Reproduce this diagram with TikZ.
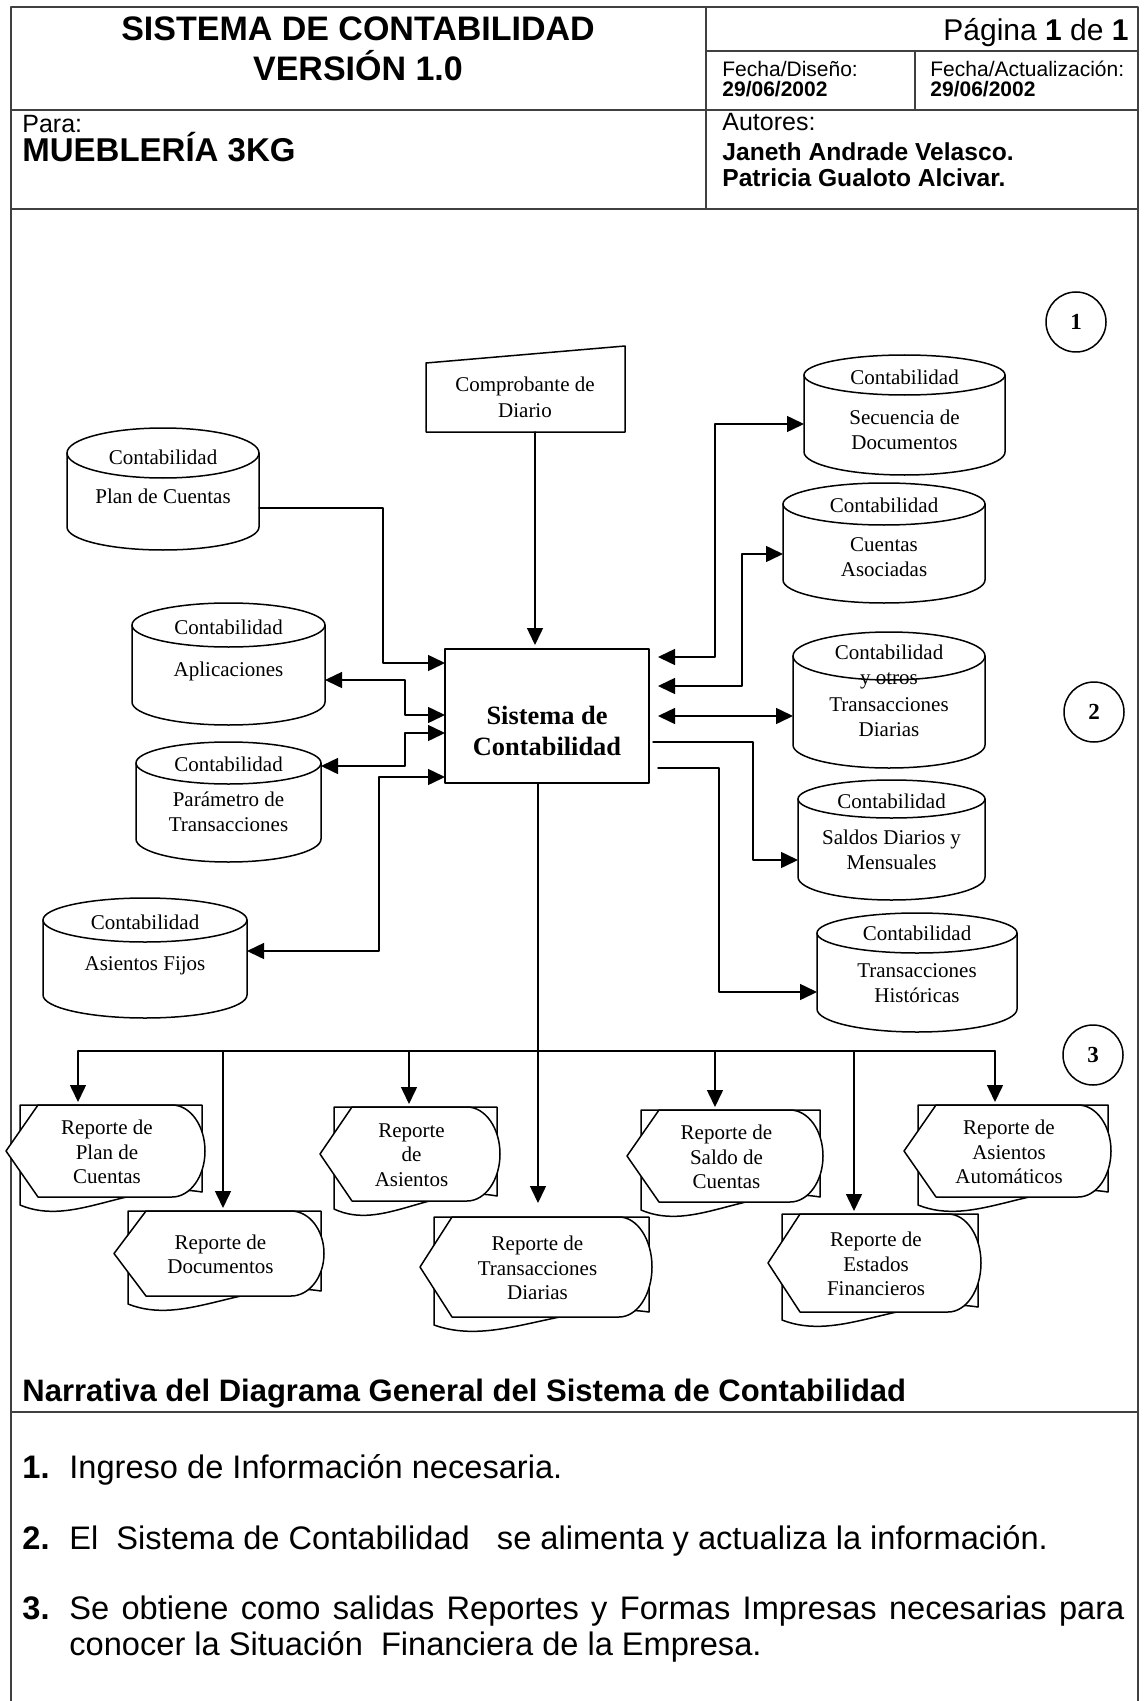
\documentclass[tikz,border=0pt]{standalone}
\usepackage{fontspec}
\setmainfont{Liberation Serif}
\newfontfamily\hsans{Liberation Sans}
\usetikzlibrary{arrows.meta,calc}

\begin{document}
\begin{tikzpicture}[x=0.5pt,y=-0.5pt,line cap=round,line join=round,
  >={Triangle[length=8.5pt,width=8pt]},
  rule/.style={line width=0.8pt,draw=black!75},
  conn/.style={line width=0.75pt},
  lbl/.style={font=\fontsize{10.5}{12.3}\selectfont,align=center,inner sep=0pt},
  shp/.style={line width=0.75pt,fill=white},
  rep/.style={rectangle,inner sep=0pt,outer sep=0pt},
  num/.style={circle,draw,line width=0.75pt,minimum size=30pt,inner sep=0pt,font=\fontsize{11.5}{12}\selectfont\bfseries},
  hd/.style={inner sep=0pt}]
\useasboundingbox (0,0) rectangle (1144,1701);

\draw[rule] (11,1701) -- (11,7) -- (1138,7) -- (1138,1701);
\draw[rule] (706,7) -- (706,209);
\draw[rule] (706,51) -- (1138,51);
\draw[rule] (915,51) -- (915,110);
\draw[rule] (11,110) -- (1138,110);
\draw[rule] (11,209) -- (1138,209);
\draw[rule] (11,1412) -- (1138,1412);

\node[hd,anchor=base,font=\hsans\bfseries\fontsize{17}{20}\selectfont] (tit1) at (358,41) {SISTEMA DE CONTABILIDAD};
\node[hd,anchor=base,font=\hsans\bfseries\fontsize{17}{20}\selectfont] (tit2) at (358,81) {VERSIÓN 1.0};
\node[hd,anchor=base east,font=\hsans\fontsize{15}{18}\selectfont] (pag) at (1129,41) {Página \textbf{1} de \textbf{1}};
\node[hd,anchor=base west,font=\hsans\fontsize{10.5}{12}\selectfont] (fd1) at (722,77) {Fecha/Diseño:};
\node[hd,anchor=base west,font=\hsans\bfseries\fontsize{10.5}{12}\selectfont] (fd2) at (722,97) {29/06/2002};
\node[hd,anchor=base west,font=\hsans\fontsize{10.5}{12}\selectfont] (fa1) at (930,77) {Fecha/Actualización:};
\node[hd,anchor=base west,font=\hsans\bfseries\fontsize{10.5}{12}\selectfont] (fa2) at (930,97) {29/06/2002};
\node[hd,anchor=base west,font=\hsans\fontsize{12.5}{15}\selectfont] (para) at (22,133) {Para:};
\node[hd,anchor=base west,font=\hsans\bfseries\fontsize{16.5}{18}\selectfont] (cli) at (22,162) {MUEBLERÍA 3KG};
\node[hd,anchor=base west,font=\hsans\fontsize{12.5}{15}\selectfont] (aut) at (722,131) {Autores:};
\node[hd,anchor=base west,font=\hsans\bfseries\fontsize{12.3}{15}\selectfont] (aut1) at (722,161) {Janeth Andrade Velasco.};
\node[hd,anchor=base west,font=\hsans\bfseries\fontsize{12.3}{15}\selectfont] (aut2) at (722,187) {Patricia Gualoto Alcivar.};

\node[num] (n1) at (1076,322) {1};
\node[num] (n2) at (1094,712) {2};
\node[num] (n3) at (1093,1055) {3};

\node[rep,minimum width=99.5pt,minimum height=37pt] (comp) at (525.5,395) {};
\draw[shp] (comp.south west) -- (comp.south east) -- ($(comp.south east)+(0,-86)$) -- ($(comp.south west)+(0,-69)$) -- cycle;
\node[lbl,font=\fontsize{10.5}{13}\selectfont] (compT) at (525,397) {Comprobante de\\Diario};

\node[draw,line width=0.75pt,rectangle,minimum width=102pt,minimum height=67pt,inner sep=0pt,outer sep=0pt] (sis) at (547,716) {};
\node[lbl,font=\fontsize{13.2}{15.5}\selectfont\bfseries] (sisT) at (547,731) {Sistema de\\Contabilidad};

\foreach \nm/\xa/\xb/\yt/\yb/\ry in {dbPlan/67/259/428/550/25, dbApl/132/325/603/725/22, dbPar/136/321/742/862/21,
  dbFij/43/247/898/1018/22, dbSec/804/1005/355/475/20, dbCta/783/985/483/603/21, dbTrd/793/985/632/768/24,
  dbSal/798/985/780/900/19, dbHis/817/1017/913/1032/20}{
  \node[rep,minimum width={(\xb-\xa)*0.5pt},minimum height={(\yb-\yt)*0.5pt}] (\nm) at ({(\xa+\xb)/2},{(\yt+\yb)/2}) {};
  \draw[shp] ($(\nm.north west)+(0,\ry)$) -- ($(\nm.south west)+(0,-23)$) arc[start angle=180,end angle=360,x radius={(\xb-\xa)*0.25pt},y radius=11.5pt] -- ($(\nm.north east)+(0,\ry)$) arc[start angle=0,end angle=180,x radius={(\xb-\xa)*0.25pt},y radius=\ry*0.5pt] -- cycle;
  \draw[shp,fill=none] ($(\nm.north west)+(0,\ry)$) arc[start angle=180,end angle=360,x radius={(\xb-\xa)*0.25pt},y radius=\ry*0.5pt];
}

\node[lbl] (dbPlanA) at (163,457) {Contabilidad};
\node[lbl] (dbPlanB) at (163,496) {Plan de Cuentas};
\node[lbl] (dbAplA) at (228.5,627) {Contabilidad};
\node[lbl] (dbAplB) at (228.5,671) {Aplicaciones};
\node[lbl] (dbParA) at (228.5,764) {Contabilidad};
\node[lbl] (dbParB) at (228.5,812) {Parámetro de\\Transacciones};
\node[lbl] (dbFijA) at (145,922) {Contabilidad};
\node[lbl] (dbFijB) at (145,966) {Asientos Fijos};
\node[lbl] (dbSecA) at (904.5,377) {Contabilidad};
\node[lbl] (dbSecB) at (904.5,430) {Secuencia de\\Documentos};
\node[lbl] (dbCtaA) at (884,505) {Contabilidad};
\node[lbl] (dbCtaB) at (884,557) {Cuentas\\Asociadas};
\node[lbl] (dbTrdA) at (889,667) {Contabilidad\\y otros};
\node[lbl] (dbTrdB) at (889,717) {Transacciones\\Diarias};
\node[lbl] (dbSalA) at (891.5,801) {Contabilidad};
\node[lbl] (dbSalB) at (891.5,850) {Saldos Diarios y\\Mensuales};
\node[lbl] (dbHisA) at (917,933) {Contabilidad};
\node[lbl] (dbHisB) at (917,983) {Transacciones\\Históricas};

\foreach \xa/\xb/\yt/\hh/\nm/\txt in {20/202/1105/92/rPlan/{Reporte de\\Plan de\\Cuentas},
  334/497/1107/94/rAsi/{Reporte\\de\\Asientos},
  641/820/1110/92/rSal/{Reporte de\\Saldo de\\Cuentas},
  918/1108/1105/92/rAut/{Reporte de\\Asientos\\Automáticos},
  128/321/1211/85/rDoc/{Reporte de\\Documentos},
  434/649/1217/100/rTrd/{Reporte de\\Transacciones\\Diarias},
  782/978/1214/98/rEst/{Reporte de\\Estados\\Financieros}}{
  \node[rep,minimum width={(\xb-\xa)*0.5pt},minimum height={\hh*0.5pt}] (\nm) at ({(\xa+\xb)/2},{\yt+\hh/2}) {};
  \draw[shp] (\nm.north west) -- (\nm.north east) -- ($(\nm.south east)+(0,-5)$) .. controls ($(\nm.south west)!0.6!(\nm.south east)+(0,-17)$) and ($(\nm.south west)!0.3!(\nm.south east)+(0,31)$) .. ($(\nm.south west)+(0,8)$) -- cycle;
  \draw[shp] ($(\nm.west)+(-14,0)$) -- ($(\nm.north west)+(18,0)$) -- ($(\nm.north east)+(-30,0)$) arc[start angle=90,end angle=-90,x radius=16.5pt,y radius=\hh*0.25pt] -- ($(\nm.south west)+(18,0)$) -- cycle;
  \node[lbl] (\nm-t) at ($(\nm.center)+(-4,1)$) {\txt};
}

\draw[conn,->,shorten >=2pt] (comp.south -| 535,0) -- (sis.north -| 535,0);
\draw[conn,->] (dbPlan.east |- 0,508) -| (383,663) -- (sis.west |- 0,663);
\draw[conn,<->] (dbApl.east |- 0,680) -| (405,715) -- (sis.west |- 0,715);
\draw[conn,<->] (dbPar.east |- 0,766) -| (405,733) -- (sis.west |- 0,733);
\draw[conn,<->] (dbFij.east |- 0,951) -| (379,777) -- (sis.west |- 0,777);
\draw[conn,<->,shorten <=4.5pt] (sis.east |- 0,657) -| (715,424) -- (dbSec.west |- 0,424);
\draw[conn,<->,shorten <=4.5pt] (sis.east |- 0,686) -| (742,554) -- (dbCta.west |- 0,554);
\draw[conn,<->,shorten <=4.5pt] (sis.east |- 0,716) -- (dbTrd.west |- 0,716);
\draw[conn,->,shorten <=2pt] (sis.east |- 0,742) -| (753,860) -- (dbSal.west |- 0,860);
\draw[conn,->,shorten <=4.5pt] (sis.east |- 0,768) -| (719,992) -- (dbHis.west |- 0,992);

\coordinate (busL) at (78,1051);
\coordinate (busR) at (995,1051);
\draw[conn] (busL) -- (busR);
\draw[conn,->,shorten >=7pt] (sis.south -| 538,0) -- (rTrd.north -| 538,0);
\foreach \xd/\rn in {78/rPlan,223/rDoc,409/rAsi,715/rSal,854/rEst,995/rAut}
  \draw[conn,->,shorten >=1.5pt] (\xd,1051) -- (\rn.north -| \xd,0);

\node[hd,anchor=base west,font=\hsans\bfseries\fontsize{15.5}{18}\selectfont] (narr) at (22,1401) {Narrativa del Diagrama General del Sistema de Contabilidad};
\node[hd,anchor=base west,font=\hsans\bfseries\fontsize{16.3}{18}\selectfont] (i1) at (22,1478) {1.};
\node[hd,anchor=base west,font=\hsans\fontsize{16.3}{18}\selectfont] (t1) at (69,1478) {Ingreso de Información necesaria.};
\node[hd,anchor=base west,font=\hsans\bfseries\fontsize{16.3}{18}\selectfont] (i2) at (22,1549) {2.};
\node[hd,anchor=base west,font=\hsans\fontsize{16.3}{18}\selectfont] (t2) at (69,1549) {El\ \ Sistema de Contabilidad\ \ \ se alimenta y actualiza la información.};
\node[hd,anchor=base west,font=\hsans\bfseries\fontsize{16.3}{18}\selectfont] (i3) at (22,1619) {3.};
\node[hd,anchor=base west,font=\hsans\fontsize{16.3}{18}\selectfont] (t3) at (69,1619) {\makebox[527.5pt][s]{Se obtiene como salidas Reportes y Formas Impresas necesarias para}};
\node[hd,anchor=base west,font=\hsans\fontsize{16.3}{18}\selectfont] (t3b) at (69,1655) {conocer la Situación\ \ Financiera de la Empresa.};
\end{tikzpicture}
\end{document}
